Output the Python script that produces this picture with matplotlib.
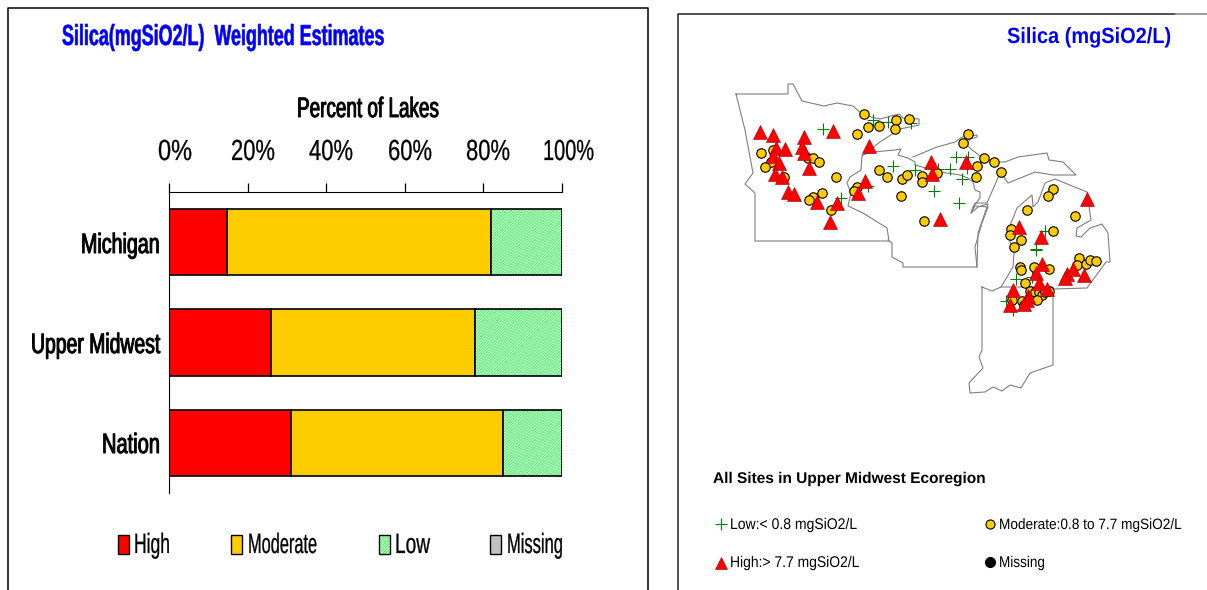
# Silica chart: stacked bars on the left, site map on the right
import matplotlib
matplotlib.use("Agg")
import matplotlib.pyplot as plt
from matplotlib.patches import Rectangle
from matplotlib.patheffects import AbstractPathEffect
from matplotlib.transforms import Affine2D

# Bar values (percent of lakes)
regions = ["Michigan", "Upper Midwest", "Nation"]
high = [14.8, 26.0, 31.1]
moderate = [67.2, 51.9, 53.9]
low = [18.0, 22.1, 15.0]

pct_ticks = [0, 20, 40, 60, 80, 100]
pct_labels = ["0%", "20%", "40%", "60%", "80%", "100%"]

# Map outlines, in page pixels
minnesota_x = [736, 788, 788, 793, 802, 824, 837, 853, 863, 880, 899, 903, 919, 919, 900, 880, 862, 861, 850, 847, 851, 848, 863, 887, 889, 755, 755, 745, 753, 745, 736]
minnesota_y = [94, 94, 84, 84, 101, 106, 103, 106, 115, 119, 114, 118, 119, 125, 129, 142, 156, 170, 177, 183, 193, 206, 213, 228, 241, 241, 193, 184, 173, 130, 94]
wisconsin_x = [862, 873, 895, 901, 898, 908, 915, 915, 940, 960, 968, 973, 975, 980, 980, 973, 971, 978, 988, 978, 977, 903, 903, 892, 892, 888]
wisconsin_y = [155, 152, 150, 149, 155, 158, 162, 165, 172, 175, 178, 182, 190, 192, 198, 207, 213, 207, 204, 233, 267, 267, 263, 257, 243, 240]
upper_mi_x = [913, 937, 955, 962, 977, 977, 970, 967, 972, 983, 995, 1005, 1018, 1047, 1049, 1063, 1076, 1053, 1035, 1008, 1004, 998, 997, 987, 975, 971, 975, 988, 982, 975, 977]
upper_mi_y = [157, 147, 142, 137, 135, 137, 139, 145, 150, 158, 162, 162, 157, 153, 160, 162, 175, 175, 172, 183, 177, 177, 180, 203, 203, 213, 206, 207, 223, 247, 267]
lower_mi_x = [1001, 1013, 1014, 1007, 1017, 1032, 1033, 1038, 1045, 1055, 1087, 1091, 1077, 1076, 1081, 1090, 1102, 1108, 1110, 1106, 1087, 1053]
lower_mi_y = [287, 267, 253, 233, 208, 195, 207, 202, 183, 179, 192, 220, 228, 236, 237, 228, 224, 233, 262, 262, 288, 289]
indiana_x = [982, 992, 1001, 1053, 1053, 1030, 1021, 1010, 1002, 993, 985, 970, 969, 983, 979, 982, 982]
indiana_y = [287, 291, 287, 287, 365, 373, 388, 385, 391, 387, 392, 393, 383, 368, 357, 350, 287]

# Sites, in page pixels
moderate_x = [864, 868, 879, 857, 896, 895, 909, 761, 773, 771, 765, 784, 808, 813, 819, 836, 822, 813, 809, 831, 857, 854, 879, 887, 902, 907, 922, 922, 937, 901, 924, 968, 963, 984, 994, 1001, 977, 976, 1053, 1048, 1027, 1075, 1011, 1010, 1021, 1014, 1053, 1020, 1021, 1034, 1049, 1079, 1077, 1086, 1090, 1096, 1025, 1030, 1035, 1039, 1042, 1049, 1045, 1037, 1022, 1012, 1024]
moderate_y = [114, 127, 126, 134, 120, 129, 119, 153, 150, 162, 167, 177, 158, 158, 162, 177, 193, 197, 200, 210, 187, 191, 170, 177, 179, 175, 176, 182, 173, 196, 221, 134, 143, 158, 162, 172, 166, 177, 189, 196, 210, 216, 229, 235, 240, 247, 231, 267, 270, 267, 269, 258, 265, 264, 260, 261, 283, 291, 292, 292, 295, 291, 292, 300, 301, 300, 305]
high_x = [760, 773, 804, 802, 804, 833, 869, 776, 785, 773, 779, 775, 782, 809, 788, 794, 817, 837, 830, 865, 858, 931, 932, 940, 966, 1087, 1019, 1041, 1042, 1036, 1039, 1047, 1013, 1028, 1027, 1024, 1010, 1067, 1065, 1073, 1084]
high_y = [132, 135, 137, 147, 153, 131, 146, 148, 149, 156, 163, 174, 177, 168, 192, 194, 202, 203, 222, 181, 193, 162, 174, 219, 162, 199, 227, 237, 264, 273, 283, 289, 290, 296, 300, 304, 305, 274, 278, 269, 275]
low_x = [823, 873, 888, 911, 893, 915, 938, 950, 934, 841, 868, 956, 968, 967, 962, 959, 1045, 1036, 1036, 1016, 1032, 1006, 1013]
low_y = [129, 120, 122, 123, 166, 170, 169, 169, 191, 198, 186, 157, 157, 168, 179, 203, 231, 249, 250, 279, 277, 301, 310]


# Squeeze text sideways around its left end, the original has very tight letters
class Squeeze(AbstractPathEffect):
    def __init__(self, sx, lw):
        super().__init__()
        self.sx = sx
        self.lw = lw

    def draw_path(self, renderer, gc, tpath, affine, rgbFace=None):
        gc0 = renderer.new_gc()
        gc0.copy_properties(gc)
        gc0.set_linewidth(self.lw)
        renderer.draw_path(gc0, tpath, Affine2D().scale(self.sx, 1) + affine, rgbFace)
        gc0.restore()


plt.rcParams["font.family"] = "Liberation Sans"
fig = plt.figure(figsize=(12.07, 5.9), dpi=100)

# Whole page axes in pixels, y going down
page = fig.add_axes([0, 0, 1, 1])
page.set_xlim(0, 1207)
page.set_ylim(590, 0)
page.axis("off")
renderer = fig.canvas.get_renderer()


def put_text(x0, x1, base, s, px, color="black", weight="normal", lw=0.0):
    t = page.text(x0, base, s, fontsize=px * 0.72, color=color, weight=weight,
                  ha="left", va="baseline", zorder=10)
    w = t.get_window_extent(renderer).width
    t.set_path_effects([Squeeze((x1 - x0) / w, lw)])


# Panel borders
page.plot([7.5, 7.5, 648, 648], [590, 7.5, 7.5, 590], color="black", lw=1.1)
page.plot([678, 678, 1175], [590, 14, 14], color="#222222", lw=1.1)
page.plot([1175, 1207], [14, 14], color="#808080", lw=1.1)

# Left panel text
put_text(62, 384, 45, "Silica(mgSiO2/L)  Weighted Estimates", 29, "#0000ff", "bold", lw=0.4)
put_text(297, 439, 117, "Percent of Lakes", 28, lw=0.7)
tick_x0 = [158, 231, 309, 388, 466, 543]
tick_x1 = [192, 275, 353, 432, 510, 594]
for a, b, lab in zip(tick_x0, tick_x1, pct_labels):
    put_text(a, b, 160, lab, 29, lw=0.2)
put_text(81, 160, 253, regions[0], 28, lw=0.7)
put_text(31, 160, 353, regions[1], 28, lw=0.7)
put_text(102, 160, 453, regions[2], 28, lw=0.7)

# Bars
plt.rcParams["hatch.linewidth"] = 0.7
ax = fig.add_axes([169 / 1207, 1 - 493 / 590, 393 / 1207, 301 / 590])
ax.patch.set_alpha(0)
ypos = [0.5, 1.5, 2.5]
left2 = [a + b for a, b in zip(high, moderate)]
ax.barh(ypos, high, height=0.66, color="#ff0000", edgecolor="black", lw=1.2)
ax.barh(ypos, moderate, left=high, height=0.66, color="#ffcc00", edgecolor="black", lw=1.2)
ax.barh(ypos, low, left=left2, height=0.66, color="white", edgecolor="#22ff44", hatch="/" * 12, lw=0)
ax.barh(ypos, low, left=left2, height=0.66, fill=False, edgecolor="black", lw=1.2)
ax.set_xlim(0, 100)
ax.set_ylim(3, 0)
ax.set_xticks(pct_ticks)
ax.set_xticklabels([])
ax.set_yticks([])
ax.xaxis.tick_top()
ax.tick_params(axis="x", length=6.5, width=0.9)
ax.spines["right"].set_visible(False)
ax.spines["bottom"].set_visible(False)
ax.spines["left"].set_bounds(0, 3)

# Left legend
page.add_patch(Rectangle((118, 535), 11, 19, fc="#ff0000", ec="black", lw=1))
page.add_patch(Rectangle((231, 535), 11, 19, fc="#ffcc00", ec="black", lw=1))
page.add_patch(Rectangle((379, 535), 11, 19, fc="white", ec="#22ff44", hatch="/" * 12, lw=0))
page.add_patch(Rectangle((379, 535), 11, 19, fill=False, ec="black", lw=1))
page.add_patch(Rectangle((490, 535), 11, 19, fc="#c0c0c0", ec="black", lw=1))
put_text(134, 170, 553, "High", 28, lw=0.2)
put_text(248, 317, 553, "Moderate", 28, lw=0.2)
put_text(395, 430, 553, "Low", 28, lw=0.2)
put_text(507, 563, 553, "Missing", 28, lw=0.2)

# Right panel text
put_text(1007, 1171, 43, "Silica (mgSiO2/L)", 22, "#0000ff", "bold")
put_text(713, 986, 483, "All Sites in Upper Midwest Ecoregion", 15.5, weight="bold")
put_text(730, 857, 529, "Low:< 0.8 mgSiO2/L", 15.5)
put_text(999, 1182, 529, "Moderate:0.8 to 7.7 mgSiO2/L", 15)
put_text(730, 859, 567, "High:> 7.7 mgSiO2/L", 15.5)
put_text(999, 1045, 567, "Missing", 15.5)

# Map
for sx, sy in [(minnesota_x, minnesota_y), (wisconsin_x, wisconsin_y), (upper_mi_x, upper_mi_y),
               (lower_mi_x, lower_mi_y), (indiana_x, indiana_y)]:
    page.plot(sx, sy, color="#808080", lw=0.8)
page.plot(low_x, low_y, "+", color="#008000", ms=9, mew=0.8, ls="none")
page.plot(moderate_x, moderate_y, "o", color="#ffcc00", mec="black", mew=0.8, ms=6.8, ls="none")
page.plot(high_x, high_y, "^", color="#ff0000", mec="#990000", mew=0.4, ms=9.5, ls="none")

# Map legend markers
page.plot([721], [524], "+", color="#008000", ms=9, mew=0.8)
page.plot([990], [524], "o", color="#ffcc00", mec="black", mew=0.8, ms=6.5)
page.plot([721], [563], "^", color="#ff0000", mec="#990000", mew=0.4, ms=9)
page.plot([990], [562], "o", color="black", ms=7)

fig.savefig("out.png", dpi=100)
